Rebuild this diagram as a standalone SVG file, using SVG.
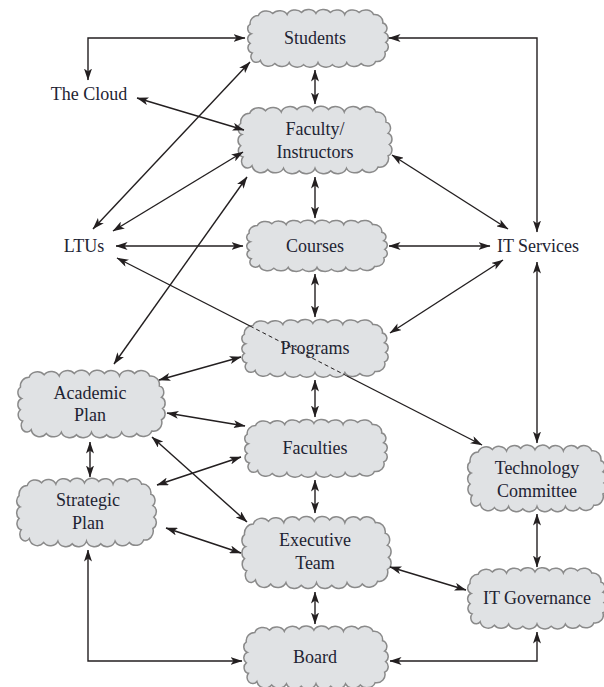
<svg xmlns="http://www.w3.org/2000/svg" xmlns:xlink="http://www.w3.org/1999/xlink" width="604" height="687" viewBox="0 0 604 687">
<style>
.cl{fill:#e0e2e4;stroke:#8a8a8a;stroke-width:1.5;vector-effect:non-scaling-stroke}
.t{font-family:'Liberation Serif','DejaVu Serif',serif;font-size:18px;fill:#1e2433;text-anchor:middle}
.c{fill:none;stroke:#231f20;stroke-width:1.4}
.a{marker-start:url(#ah);marker-end:url(#ah)}
.d{stroke-dasharray:4 3;stroke-width:1}
</style>
<defs>
<marker id="ah" viewBox="0 0 12 8" refX="11.5" refY="4" markerWidth="12" markerHeight="8" markerUnits="userSpaceOnUse" orient="auto-start-reverse">
<path d="M0,0 L12,4 L0,8 L3,4 Z" fill="#231f20"/>
</marker>
<symbol id="cloud" viewBox="0 0 144 60" preserveAspectRatio="none">
<path class="cl" d="M14,9 A8,6 0 0 1 28,7 A8,6 0 0 1 42,8 A8,6 0 0 1 56,6 A8,6 0 0 1 70,7 A8,6 0 0 1 84,6 A8,6 0 0 1 98,8 A8,6 0 0 1 112,6 A8,6 0 0 1 126,8 A8,7 0 0 1 135,16 A5,5 0 0 1 137,25 A5,5 0 0 1 138,34 A5,5 0 0 1 137,43 A8,7 0 0 1 128,52 A8,6 0 0 1 114,54 A8,6 0 0 1 100,53 A8,6 0 0 1 86,55 A8,6 0 0 1 72,53 A8,6 0 0 1 58,55 A8,6 0 0 1 44,53 A8,6 0 0 1 30,54 A8,7 0 0 1 16,51 A5,5 0 0 1 8,44 A5,5 0 0 1 6,35 A5,5 0 0 1 7,26 A5,5 0 0 1 6,17 A8,7 0 0 1 14,9 Z"/>
</symbol>
</defs>
<rect width="604" height="687" fill="#ffffff"/>

<g id="nodes">
<g id="students"><use href="#cloud" x="244" y="6" width="148" height="64"/><text class="t" x="315" y="44">Students</text></g>
<g id="faculty"><use href="#cloud" x="234" y="102" width="162" height="75"/><text class="t" x="315" y="135">Faculty/</text><text class="t" x="315" y="158">Instructors</text></g>
<g id="courses"><use href="#cloud" x="243" y="217" width="148" height="57"/><text class="t" x="315" y="252">Courses</text></g>
<g id="programs"><use href="#cloud" x="238" y="316" width="154" height="64"/><text class="t" x="315" y="354">Programs</text></g>
<g id="academic"><use href="#cloud" x="14" y="366" width="155" height="75"/><text class="t" x="90" y="399">Academic</text><text class="t" x="90" y="421">Plan</text></g>
<g id="faculties"><use href="#cloud" x="241" y="416" width="150" height="64"/><text class="t" x="315" y="454">Faculties</text></g>
<g id="strategic"><use href="#cloud" x="13" y="474" width="147" height="76"/><text class="t" x="88" y="506">Strategic</text><text class="t" x="88" y="529">Plan</text></g>
<g id="executive"><use href="#cloud" x="238" y="512" width="157" height="80"/><text class="t" x="315" y="546">Executive</text><text class="t" x="315" y="569">Team</text></g>
<g id="techcommittee"><use href="#cloud" x="464" y="441" width="146" height="74"/><text class="t" x="537" y="474">Technology</text><text class="t" x="537" y="497">Committee</text></g>
<g id="itgov"><use href="#cloud" x="464" y="564" width="146" height="68"/><text class="t" x="537" y="604">IT Governance</text></g>
<g id="board"><use href="#cloud" x="240" y="622" width="152" height="70"/><text class="t" x="315" y="663">Board</text></g>
<g id="thecloud"><text class="t" x="89" y="100">The Cloud</text></g>
<g id="ltus"><text class="t" x="84" y="252">LTUs</text></g>
<g id="itservices"><text class="t" x="538" y="252">IT Services</text></g>
</g>

<g id="connectors">
<path class="c a" d="M245,38 H88 V80"/>
<path class="c a" d="M389,38 H537 V232"/>
<path class="c a" d="M315,70 V104"/>
<path class="c a" d="M137,98 L244,130"/>
<path class="c a" d="M93,229 L250,62"/>
<path class="c a" d="M113,231 L243,152"/>
<path class="c a" d="M392,155 L508,229"/>
<path class="c a" d="M315,177 V218"/>
<path class="c a" d="M116,246 H243"/>
<path class="c a" d="M389,246 H490"/>
<path class="c a" d="M315,274 V317"/>
<path class="c a" d="M503,260 L390,333"/>
<g id="ltus-tech">
<path class="c" d="M117,258 L250,326" style="marker-start:url(#ah)"/>
<path class="c d" d="M250,326 L347,376"/>
<path class="c" d="M347,376 L482,445" style="marker-end:url(#ah)"/>
</g>
<path class="c a" d="M114,364 L247,177"/>
<path class="c a" d="M159,380 L241,357"/>
<path class="c a" d="M315,380 V417"/>
<path class="c a" d="M167,413 L245,426"/>
<path class="c a" d="M152,437 L247,522"/>
<path class="c a" d="M90,442 V477"/>
<path class="c a" d="M157,485 L241,457"/>
<path class="c a" d="M315,480 V513"/>
<path class="c a" d="M166,528 L241,553"/>
<path class="c a" d="M390,567 L466,590"/>
<path class="c a" d="M537,514 V567"/>
<path class="c a" d="M537,262 V443"/>
<path class="c a" d="M315,592 V624"/>
<path class="c a" d="M88,550 V661 H242"/>
<path class="c a" d="M390,661 H537 V632"/>
</g>
</svg>
